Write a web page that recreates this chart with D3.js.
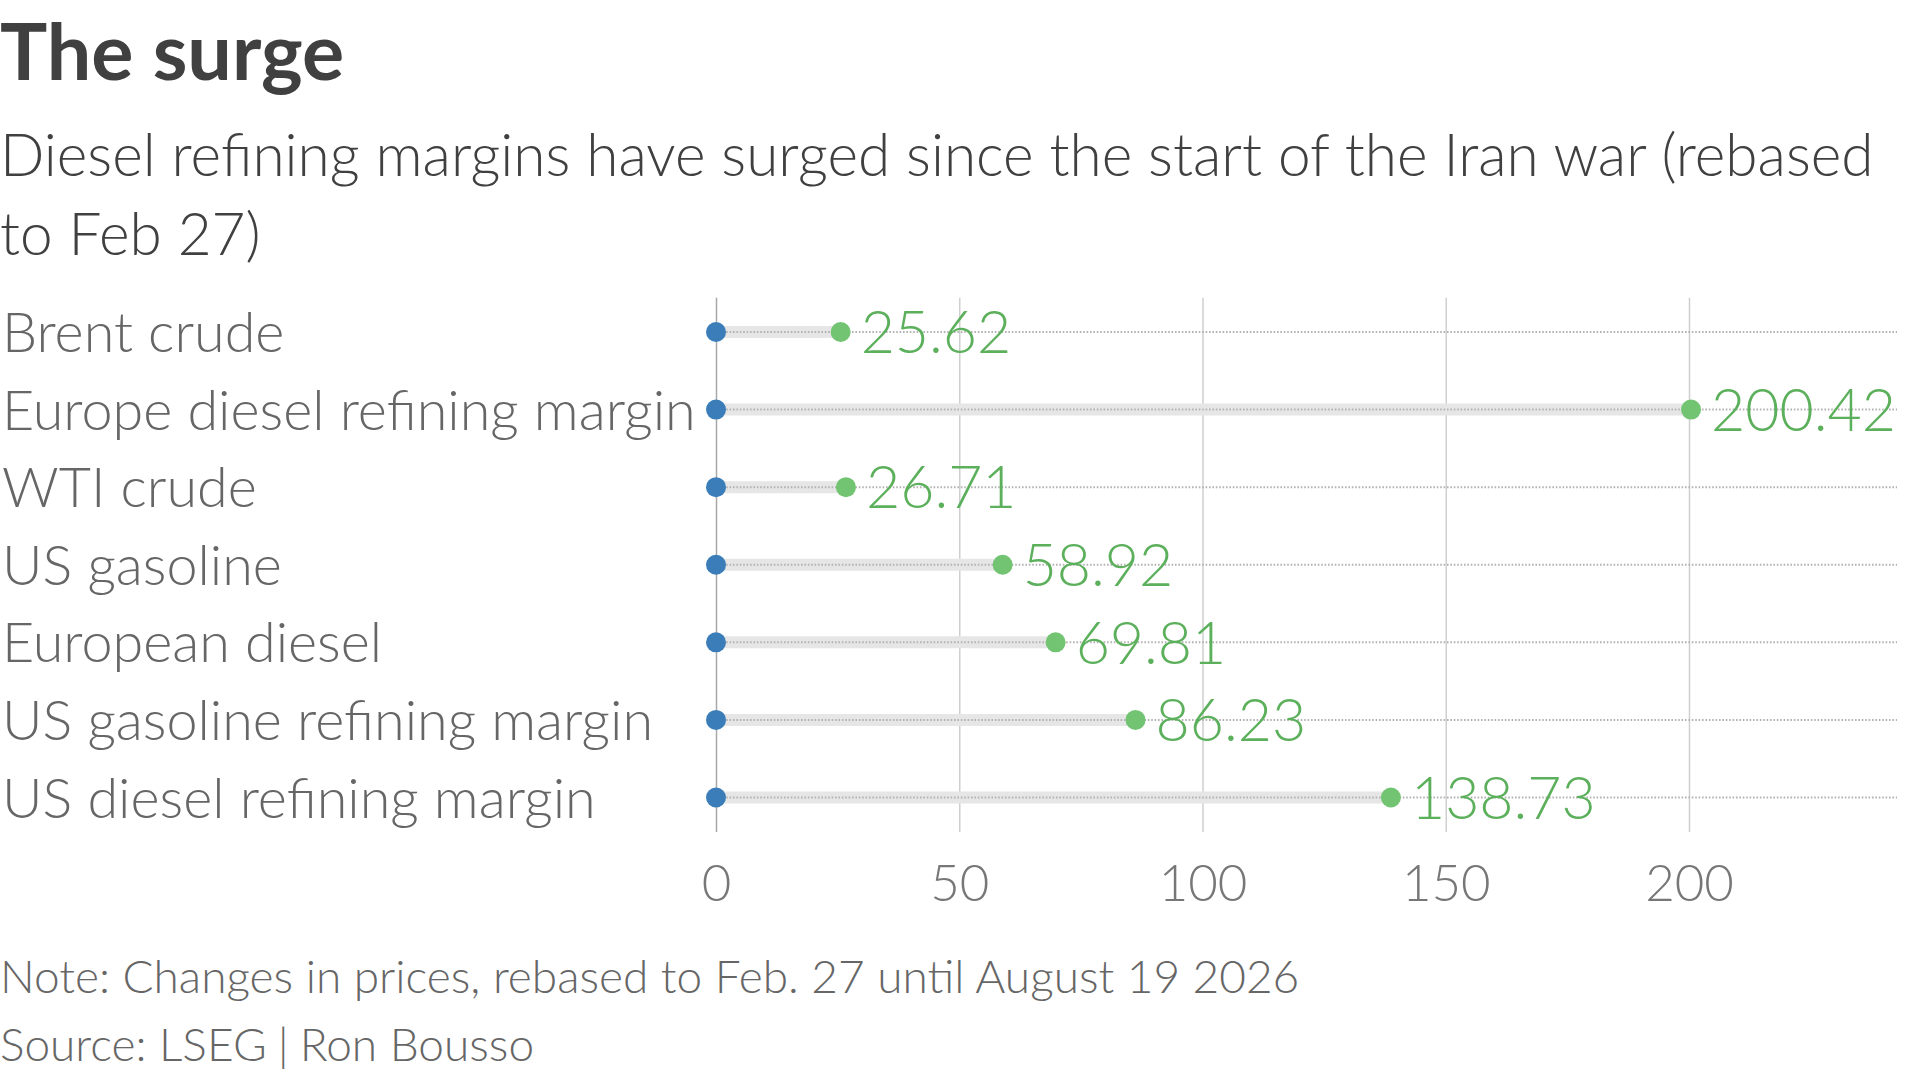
<!DOCTYPE html>
<html>
<head>
<meta charset="utf-8">
<script src="https://cdn.jsdelivr.net/npm/d3@7"></script>
<style>
  html, body { margin: 0; padding: 0; background: #fff; }
  svg { display: block; font-family: Lato, "Noto Sans", sans-serif; }
</style>
</head>
<body>
<svg id="chart" width="1920" height="1076"></svg>
<script>
(function () {
  "use strict";

  const categories = [
    "Brent crude",
    "Europe diesel refining margin",
    "WTI crude",
    "US gasoline",
    "European diesel",
    "US gasoline refining margin",
    "US diesel refining margin"
  ];
  const startValues = [0, 0, 0, 0, 0, 0, 0];
  const endValues = [25.62, 200.42, 26.71, 58.92, 69.81, 86.23, 138.73];
  const xTicks = [0, 50, 100, 150, 200];

  const title = "The surge";
  const subtitleLines = [
    "Diesel refining margins have surged since the start of the Iran war (rebased",
    "to Feb 27)"
  ];
  const noteText = "Note: Changes in prices, rebased to Feb. 27 until August 19 2026";
  const sourceParts = ["Source: LSEG", "|", "Ron Bousso"];

  const svg = d3.select("#chart");

  const x = d3.scaleLinear().domain([0, 200]).range([716, 1689]);
  const y = d3.scalePoint().domain(categories).range([332, 797.5]);
  const gridTop = 297.7;
  const gridBottom = 832;
  const rightEdge = 1897;

  // header
  svg.append("text")
    .attr("x", 0)
    .attr("y", 80)
    .attr("fill", "#404040")
    .attr("font-size", 79)
    .attr("font-weight", 700)
    .text(title);

  svg.append("g")
    .selectAll("text")
    .data(subtitleLines)
    .join("text")
    .attr("x", 0)
    .attr("y", (d, i) => 176 + i * 79)
    .attr("fill", "#404040")
    .attr("font-size", 58.5)
    .attr("font-weight", 300)
    .text((d) => d);

  // grid + axis labels
  const axis = svg.append("g")
    .attr("transform", `translate(0,${gridBottom})`)
    .call(d3.axisBottom(x).tickValues(xTicks).tickSize(-(gridBottom - gridTop)).tickPadding(0));
  axis.select(".domain").remove();
  axis.selectAll(".tick line")
    .attr("stroke", (d) => (d === 0 ? "#a8a8a8" : "#cfcfcf"))
    .attr("stroke-width", 1.5);
  axis.selectAll(".tick text")
    .attr("y", 69)
    .attr("dy", null)
    .attr("fill", "#777")
    .attr("font-size", 51)
    .attr("font-weight", 300)
    .attr("font-family", "Lato, 'Noto Sans', sans-serif");

  const rows = categories.map((c, i) => ({ name: c, start: startValues[i], end: endValues[i] }));

  // grey range bars
  svg.append("g")
    .selectAll("line")
    .data(rows)
    .join("line")
    .attr("x1", (d) => x(d.start))
    .attr("x2", (d) => x(d.end))
    .attr("y1", (d) => y(d.name))
    .attr("y2", (d) => y(d.name))
    .attr("stroke", "#e6e6e6")
    .attr("stroke-width", 12);

  // dotted row guides
  svg.append("g")
    .selectAll("line")
    .data(rows)
    .join("line")
    .attr("x1", x(0))
    .attr("x2", rightEdge)
    .attr("y1", (d) => y(d.name))
    .attr("y2", (d) => y(d.name))
    .attr("stroke", "#b3b3b3")
    .attr("stroke-width", 2)
    .attr("stroke-dasharray", "1.6 1.8");

  svg.append("g")
    .selectAll("circle")
    .data(rows)
    .join("circle")
    .attr("cx", (d) => x(d.start))
    .attr("cy", (d) => y(d.name))
    .attr("r", 10)
    .attr("fill", "#3a7db8");

  svg.append("g")
    .selectAll("circle")
    .data(rows)
    .join("circle")
    .attr("cx", (d) => x(d.end))
    .attr("cy", (d) => y(d.name))
    .attr("r", 10)
    .attr("fill", "#72c472");

  // value labels
  svg.append("g")
    .selectAll("text")
    .data(rows)
    .join("text")
    .attr("x", (d) => x(d.end) + 20)
    .attr("y", (d) => y(d.name))
    .attr("dy", "0.36em")
    .attr("fill", "#5cb05c")
    .attr("font-size", 59)
    .attr("font-weight", 300)
    .text((d) => d.end.toFixed(2));

  // category labels
  svg.append("g")
    .selectAll("text")
    .data(rows)
    .join("text")
    .attr("x", 2)
    .attr("y", (d) => y(d.name))
    .attr("dy", "0.36em")
    .attr("fill", "#666")
    .attr("font-size", 55.7)
    .attr("font-weight", 300)
    .text((d) => d.name);

  // footer
  svg.append("text")
    .attr("x", 0)
    .attr("y", 993)
    .attr("fill", "#666")
    .attr("font-size", 46)
    .attr("font-weight", 300)
    .text(noteText);

  svg.append("text")
    .attr("x", 0)
    .attr("y", 1061)
    .attr("fill", "#666")
    .attr("font-size", 46)
    .attr("font-weight", 300)
    .selectAll("tspan")
    .data(sourceParts)
    .join("tspan")
    .attr("dx", (d, i) => (i === 0 ? 0 : 11))
    .text((d) => d);
})();
</script>
</body>
</html>
